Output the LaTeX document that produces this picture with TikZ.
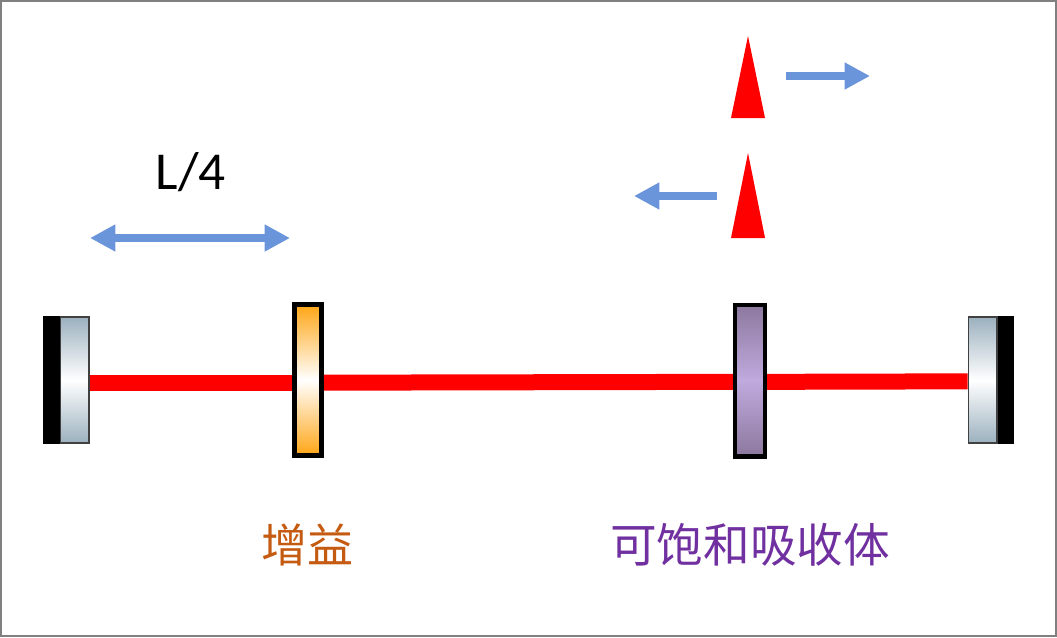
\documentclass[tikz,border=0pt]{standalone}
\usepackage{fontspec}
\setmainfont{Carlito}
\newfontfamily\cjkfont{Noto Sans CJK SC}
\usetikzlibrary{arrows.meta,positioning}
\definecolor{beamred}{RGB}{255,0,0}
\definecolor{flowblue}{RGB}{106,149,219}
\definecolor{glassgray}{RGB}{155,176,190}
\definecolor{gainorange}{RGB}{255,165,20}
\definecolor{absorbdark}{RGB}{140,120,158}
\definecolor{absorblight}{RGB}{192,170,222}
\definecolor{gaintext}{RGB}{197,90,17}
\definecolor{absorbtext}{RGB}{112,48,160}
\tikzset{
	backing/.style={fill=black, inner sep=0pt, outer sep=0pt, minimum width=12.5pt, minimum height=96pt},
	glass/.style={draw=black!75, line width=1.2pt, top color=glassgray, bottom color=glassgray, middle color=white,
		inner sep=0pt, minimum width=21.3pt, minimum height=94.8pt},
	plate/.style={draw=black, line width=3.4pt, inner sep=0pt, minimum width=20.6pt, minimum height=113.6pt},
	beam/.style={draw=beamred, line width=12pt},
	flow/.style={draw=flowblue, line width=6pt, -{Triangle[length=19pt,width=19pt]}},
	flowboth/.style={draw=flowblue, line width=6pt, {Triangle[length=19pt,width=19pt]}-{Triangle[length=19pt,width=19pt]}},
	pulse/.style={fill=beamred},
}
\begin{document}
\begin{tikzpicture}[x=0.75pt, y=-0.75pt]
\useasboundingbox (0,0) rectangle (1057,637);
\draw[gray, line width=1.5pt] (1,1) rectangle (1056,636);
\node[backing] (backL) at (51.5,380) {};
\node[glass, right=0pt of backL] (mirrorL) {};
\node[plate, top color=gainorange, bottom color=gainorange, middle color=white] (gain) at (308,380) {};
\node[plate, minimum width=22.2pt, top color=absorbdark, bottom color=absorbdark, middle color=absorblight] (absorber) at (750,380.5) {};
\node[backing] (backR) at (1006,380) {};
\node[glass, left=0pt of backR] (mirrorR) {};
\draw[beam] ([yshift=-2pt]mirrorL.east) -- ([yshift=-2pt]gain.west);
\draw[beam] ([yshift=-2pt]gain.east) -- ([yshift=-1pt]absorber.west);
\draw[beam] ([yshift=-1pt]absorber.east) -- ([yshift=-1pt]mirrorR.west);
\foreach \y/\h in {118/82, 238/85}
	\fill[pulse] (731,\y) -- (748,\y-\h) -- (765,\y) -- cycle;
\coordinate (rightS) at (786,76);
\coordinate (rightE) at (870,76);
\coordinate (leftS) at (717,196);
\coordinate (leftE) at (634,196);
\coordinate (spanL) at (90,238);
\coordinate (spanR) at (290,238);
\draw[flow] (rightS) -- (rightE);
\draw[flow] (leftS) -- (leftE);
\draw[flowboth] (spanL) -- (spanR);
\node[font=\fontsize{40}{40}\selectfont] (spanlabel) at (191,172) {L/4};
\node[font=\cjkfont\fontsize{34.5}{34.5}\selectfont, text=gaintext] (gainlabel) at (307,545) {增益};
\node[font=\cjkfont\fontsize{35}{35}\selectfont, text=absorbtext] (absorberlabel) at (750,545) {可饱和吸收体};
\end{tikzpicture}
\end{document}
